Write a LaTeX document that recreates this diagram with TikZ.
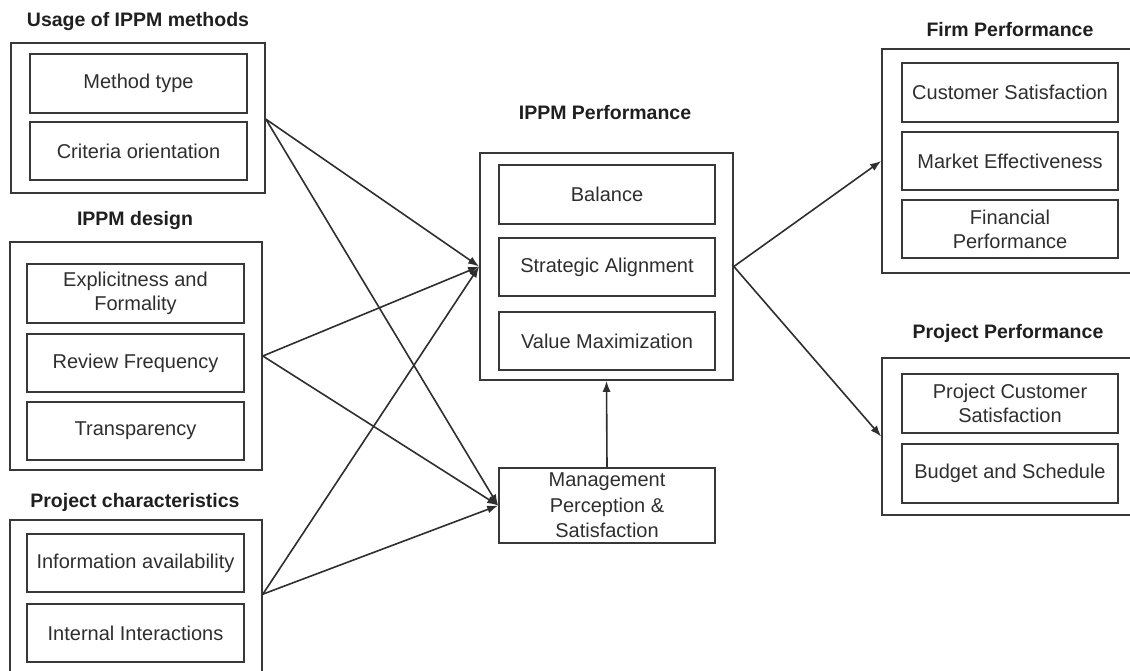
\documentclass[tikz,border=0pt]{standalone}
\usepackage{fontspec}
\setmainfont{Liberation Sans}
\usetikzlibrary{arrows.meta,calc}
\definecolor{ink}{gray}{0.22}
\begin{document}
\begin{tikzpicture}[x=1pt,y=-1pt,
  group/.style={draw=ink, line width=1.7pt, inner sep=0pt},
  item/.style={draw=ink, line width=1.7pt, inner sep=0pt, text=black!82,
    font=\fontsize{20}{24}\selectfont, align=center, minimum width=217pt},
  heading/.style={text=black!88, font=\bfseries\fontsize{19.5}{22}\selectfont, inner sep=0pt},
  link/.style={draw=black!82, line width=1.6pt, -{Latex[length=11pt,width=8pt]}}
]
\useasboundingbox (0,0) rectangle (1130,671);
\clip (0,0) rectangle (1130,671);

% ---- Usage of IPPM methods ----
\node[heading] (t1) at (138,22) {Usage of IPPM methods};
\node[group, minimum width=254pt, minimum height=150pt] (uo) at (138,118) {};
\node[item, minimum height=59pt] (mt) at (138.5,83.5) {Method type};
\node[item, minimum height=58pt] (co) at (138.5,151) {Criteria orientation};

% ---- IPPM design ----
\node[heading] (t2) at (135,221) {IPPM design};
\node[group, minimum width=252pt, minimum height=228pt] (do) at (136,356) {};
\node[item, minimum height=59pt] (ef) at (135.5,293.5) {Explicitness and\\Formality};
\node[item, minimum height=58pt] (rf) at (135.5,363) {Review Frequency};
\node[item, minimum height=58pt] (tr) at (135.5,431) {Transparency};

% ---- Project characteristics ----
\node[heading] (t3) at (135,502) {Project characteristics};
\node[group, minimum width=252pt, minimum height=180pt] (po) at (136,610) {};
\node[item, minimum height=58pt] (ia) at (135.5,563) {Information availability};
\node[item, minimum height=58pt] (ii) at (135.5,633) {Internal Interactions};

% ---- IPPM Performance ----
\node[heading] (t4) at (605,113) {IPPM Performance};
\node[group, minimum width=253pt, minimum height=227pt] (ip) at (606.5,266.5) {};
\node[item, minimum width=216pt, minimum height=59pt] (ba) at (607,194.5) {Balance};
\node[item, minimum width=216pt, minimum height=58pt] (sa) at (607,267) {Strategic Alignment};
\node[item, minimum width=216pt, minimum height=58pt] (vm) at (607,341) {Value Maximization};

% ---- Management perception ----
\node[item, minimum width=216pt, minimum height=75pt,
      font=\fontsize{20}{25.5}\selectfont] (mg) at (607,505.5)
      {Management\\Perception \&\\Satisfaction};

% ---- Firm Performance ----
\node[heading] (t5) at (1010,30) {Firm Performance};
\node[group, minimum width=258pt, minimum height=224pt] (fo) at (1011,161) {};
\node[item, minimum width=216pt, minimum height=59pt] (cs) at (1010,92.5) {Customer Satisfaction};
\node[item, minimum width=216pt, minimum height=58pt] (me) at (1010,161) {Market Effectiveness};
\node[item, minimum width=216pt, minimum height=58pt] (fp) at (1010,229) {Financial\\Performance};

% ---- Project Performance ----
\node[heading] (t6) at (1008,333) {Project Performance};
\node[group, minimum width=258pt, minimum height=157pt] (pp) at (1011,436.5) {};
\node[item, minimum width=216pt, minimum height=59pt] (pc) at (1010,403.5) {Project Customer\\Satisfaction};
\node[item, minimum width=216pt, minimum height=59pt] (bs) at (1010,473.5) {Budget and Schedule};

% ---- connectors ----
\coordinate (uout) at ([yshift=-77pt]uo.north east);
\coordinate (pout) at ([yshift=-75pt]po.north east);
\draw[link] (uout) -- (ip.west);
\draw[link] (uout) -- (mg.west);
\draw[link] (do.east) -- (ip.west);
\draw[link] (do.east) -- (mg.west);
\draw[link] (pout) -- (ip.west);
\draw[link] (pout) -- (mg.west);
\draw[link] (mg.north) -- (ip.south);
\draw[link] (ip.east) -- (fo.west);
\draw[link] (ip.east) -- (pp.west);
\end{tikzpicture}
\end{document}
